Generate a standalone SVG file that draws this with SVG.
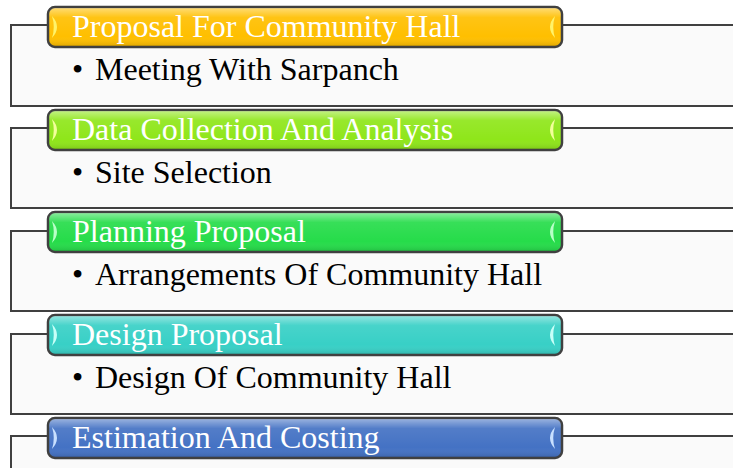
<svg xmlns="http://www.w3.org/2000/svg" width="733" height="468" viewBox="0 0 733 468">
<style>
.box{fill:#fafafa;stroke:#404040;stroke-width:2}
.hdr{stroke:#404040;stroke-width:2.5}
.ht{font-family:"Liberation Serif","Times New Roman",serif;font-size:32px;fill:#ffffff}
.bt{font-family:"Liberation Serif","Times New Roman",serif;font-size:32px;fill:#000000}
.gl{fill:url(#gloss)}
</style>
<defs>
<linearGradient id="gloss" x1="0" y1="0" x2="0" y2="1">
<stop offset="0" stop-color="#fff" stop-opacity="0.45"/>
<stop offset="0.25" stop-color="#fff" stop-opacity="0.08"/>
<stop offset="0.75" stop-color="#fff" stop-opacity="0"/>
<stop offset="1" stop-color="#000" stop-opacity="0.12"/>
</linearGradient>
<linearGradient id="boxg" x1="0" y1="0" x2="0" y2="1">
<stop offset="0" stop-color="#f2f2f2"/>
<stop offset="0.15" stop-color="#fafafa"/>
<stop offset="1" stop-color="#fbfbfb"/>
</linearGradient>
<path id="lc" d="M0 0 Q10 11 0 22 Q3.5 11 0 0 Z"/>
<path id="rc" d="M0 0 Q-10 11 0 22 Q-3.5 11 0 0 Z"/>
</defs>
<g id="connectors"></g>
<g id="node1">
<rect class="box" x="11" y="25" width="740" height="81" fill="url(#boxg)"/>
<rect class="hdr" x="48" y="7" width="514" height="40" rx="7" fill="#ffbf00"/>
<rect class="gl" x="49" y="8" width="512" height="38" rx="6"/>
<use href="#lc" x="52" y="16" fill="#fff36a"/>
<use href="#rc" x="555" y="16" fill="#fff36a"/>
<text class="ht" x="72" y="37">Proposal For Community Hall</text>
<text class="bt" x="72" y="80">•</text>
<text class="bt" x="95" y="80">Meeting With Sarpanch</text>
</g>
<g id="node2">
<rect class="box" x="11" y="128" width="740" height="80" fill="url(#boxg)"/>
<rect class="hdr" x="48" y="110" width="514" height="40" rx="7" fill="#8fe61a"/>
<rect class="gl" x="49" y="111" width="512" height="38" rx="6"/>
<use href="#lc" x="52" y="119" fill="#f2ff9a"/>
<use href="#rc" x="555" y="119" fill="#f2ff9a"/>
<text class="ht" x="72" y="140">Data Collection And Analysis</text>
<text class="bt" x="72" y="183">•</text>
<text class="bt" x="95" y="183">Site Selection</text>
</g>
<g id="node3">
<rect class="box" x="11" y="231" width="740" height="80" fill="url(#boxg)"/>
<rect class="hdr" x="48" y="212" width="514" height="40" rx="7" fill="#26dc4a"/>
<rect class="gl" x="49" y="213" width="512" height="38" rx="6"/>
<use href="#lc" x="52" y="221" fill="#b8ffc8"/>
<use href="#rc" x="555" y="221" fill="#b8ffc8"/>
<text class="ht" x="72" y="242">Planning Proposal</text>
<text class="bt" x="72" y="285">•</text>
<text class="bt" x="95" y="285">Arrangements Of Community Hall</text>
</g>
<g id="node4">
<rect class="box" x="11" y="334" width="740" height="80" fill="url(#boxg)"/>
<rect class="hdr" x="48" y="315" width="514" height="40" rx="7" fill="#38d0c6"/>
<rect class="gl" x="49" y="316" width="512" height="38" rx="6"/>
<use href="#lc" x="52" y="324" fill="#c8fff8"/>
<use href="#rc" x="555" y="324" fill="#c8fff8"/>
<text class="ht" x="72" y="345">Design Proposal</text>
<text class="bt" x="72" y="388">•</text>
<text class="bt" x="95" y="388">Design Of Community Hall</text>
</g>
<g id="node5">
<rect class="box" x="11" y="436" width="740" height="80" fill="url(#boxg)"/>
<rect class="hdr" x="48" y="418" width="514" height="40" rx="7" fill="#4472c4"/>
<rect class="gl" x="49" y="419" width="512" height="38" rx="6"/>
<use href="#lc" x="52" y="427" fill="#c8e0ff"/>
<use href="#rc" x="555" y="427" fill="#c8e0ff"/>
<text class="ht" x="72" y="448">Estimation And Costing</text>
</g>
</svg>
